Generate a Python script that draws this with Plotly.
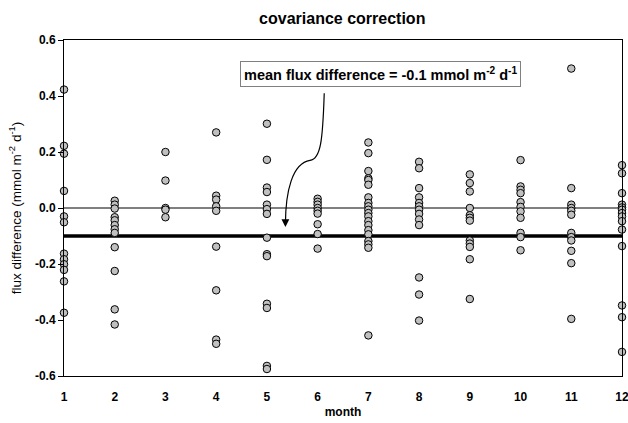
import plotly.graph_objects as go

months = list(range(1, 13))
m1 = [0.423, 0.222, 0.194, 0.061, -0.030, -0.051, -0.163, -0.183, -0.201, -0.221, -0.262, -0.374]
m2 = [0.026, 0.012, -0.002, -0.033, -0.044, -0.061, -0.076, -0.089, -0.140, -0.225, -0.362, -0.416]
m3 = [0.200, 0.098, 0.0, -0.006, -0.033]
m4 = [0.270, 0.044, 0.030, 0.006, -0.010, -0.138, -0.294, -0.470, -0.485]
m5 = [0.301, 0.172, 0.073, 0.057, 0.012, -0.004, -0.021, -0.106, -0.165, -0.172, -0.342, -0.357, -0.564, -0.575]
m6 = [0.033, 0.022, 0.012, 0.0, -0.010, -0.020, -0.058, -0.093, -0.145]
m7 = [0.234, 0.196, 0.132, 0.106, 0.100, 0.083, 0.038, 0.018, 0.006, -0.006, -0.018, -0.030,
      -0.047, -0.061, -0.079, -0.094, -0.118, -0.130, -0.142, -0.455]
m8 = [0.165, 0.142, 0.071, 0.038, 0.018, 0.006, -0.006, -0.021, -0.041, -0.061, -0.248, -0.309, -0.402]
m9 = [0.120, 0.089, 0.059, 0.0, -0.026, -0.035, -0.045, -0.116, -0.127, -0.139, -0.183, -0.325]
m10 = [0.171, 0.077, 0.065, 0.053, 0.021, 0.004, -0.012, -0.035, -0.089, -0.104, -0.151]
m11 = [0.498, 0.071, 0.012, 0.0, -0.010, -0.024, -0.089, -0.104, -0.116, -0.153, -0.197, -0.396]
m12 = [0.153, 0.124, 0.053, 0.012, 0.002, -0.006, -0.018, -0.030, -0.047, -0.077, -0.136, -0.348, -0.390, -0.514]
month_values = [m1, m2, m3, m4, m5, m6, m7, m8, m9, m10, m11, m12]
mean_diff = -0.1
y_ticks = [-0.6, -0.4, -0.2, 0.0, 0.2, 0.4, 0.6]

xs, ys = [], []
for m, vals in zip(months, month_values):
    xs += [m] * len(vals)
    ys += vals

FONT = "Arial, Liberation Sans, sans-serif"

fig = go.Figure()
fig.add_trace(go.Scatter(
    x=xs, y=ys, mode="markers",
    marker=dict(size=7.5, color="#c0c0c0", line=dict(color="black", width=1)),
    showlegend=False, cliponaxis=False,
))

# zero line and mean line
fig.add_shape(type="line", xref="paper", yref="y", x0=0, x1=1, y0=0, y1=0,
              line=dict(color="black", width=1), layer="below")
fig.add_shape(type="line", xref="paper", yref="y", x0=0, x1=1, y0=mean_diff, y1=mean_diff,
              line=dict(color="black", width=3.5), layer="below")

# curved callout arrow
fig.add_shape(type="path", xref="x", yref="y",
              path="M 6.13,0.41 C 6.10,0.24 6.06,0.175 5.85,0.17 C 5.50,0.16 5.37,0.06 5.365,-0.055",
              line=dict(color="black", width=1.2))
fig.add_annotation(x=5.365, y=-0.068, xref="x", yref="y", text="", showarrow=True,
                   ax=0, ay=-8, arrowhead=2, arrowsize=1.3, arrowwidth=1.2, arrowcolor="black")

fig.add_annotation(
    x=0.568, y=0.899, xref="paper", yref="paper", xanchor="center", yanchor="middle",
    text="<b>mean flux difference = -0.1 mmol m<sup>-2</sup> d<sup>-1</sup></b>",
    showarrow=False, bgcolor="white", bordercolor="#808080", borderwidth=1, borderpad=3,
    font=dict(family=FONT, size=14.5, color="black"),
)

fig.update_layout(
    width=628, height=423,
    margin=dict(l=64, r=6, t=40, b=47, autoexpand=False),
    paper_bgcolor="white", plot_bgcolor="white",
    title=dict(text="<b>covariance correction</b>", x=0.545, xanchor="center", y=0.957, yanchor="middle",
               font=dict(family=FONT, size=16, color="black")),
    font=dict(family=FONT, color="black"),
    xaxis=dict(range=[1, 12], tickvals=months, ticktext=[f"<b>{m}</b>" for m in months],
               showgrid=False, zeroline=False, showline=True, linecolor="black", linewidth=1,
               mirror=True, ticks="", tickfont=dict(size=12, family=FONT), automargin=False,
               ticklabeloverflow="allow", ticklabelstandoff=10,
               title=dict(text="<b>month</b>", font=dict(size=12, family=FONT), standoff=4)),
    yaxis=dict(range=[-0.6, 0.6], tickvals=y_ticks, ticktext=[f"<b>{v:.1f}</b>" for v in y_ticks],
               showgrid=False, zeroline=False, showline=True, linecolor="black", linewidth=1,
               mirror=True, ticks="outside", ticklen=5, tickcolor="black", automargin=False,
               tickfont=dict(size=12, family=FONT),
               title=dict(text="flux difference (mmol m<sup>-2</sup> d<sup>-1</sup>)",
                          font=dict(size=13.5, family=FONT), standoff=10)),
)

fig.write_html("out.html")
